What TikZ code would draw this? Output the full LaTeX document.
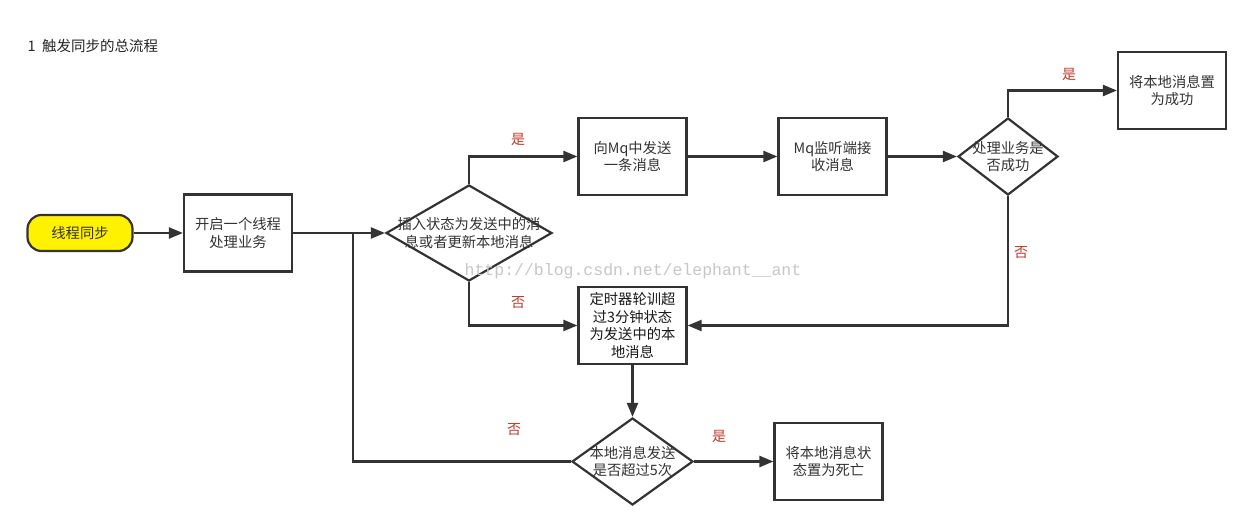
\documentclass[tikz,border=0pt]{standalone}
\usepackage{fontspec}
\setmainfont{Noto Sans CJK SC}
\newfontfamily\wmfont{Liberation Mono}
\usetikzlibrary{shapes.geometric,arrows.meta}
\definecolor{ln}{HTML}{333333}
\definecolor{tx}{HTML}{333333}
\definecolor{lbl}{HTML}{C0392B}
\begin{document}
\begin{tikzpicture}[x=1pt,y=-1pt,
  every node/.style={font=\fontsize{14.3}{17.5}\selectfont, text=tx},
  box/.style={draw=ln, line width=2.2pt, minimum width=108pt, minimum height=77pt, inner sep=2pt, align=center, text width=104pt},
  dia/.style={draw=ln, line width=2.2pt, diamond, inner sep=0pt},
  conn/.style={draw=ln, line width=2.2pt, -{Triangle[length=14pt,width=11pt]}},
  plain/.style={draw=ln, line width=2.2pt},
  lab/.style={text=lbl, font=\fontsize{14}{16}\selectfont}
]
\useasboundingbox (0,0) rectangle (1244,521);
\fill[white] (0,0) rectangle (1244,521);

\node[anchor=west, font=\fontsize{14.5}{17}\selectfont, text=black!85] (title) at (24,46) {1\ \ 触发同步的总流程};

\node[draw=ln, line width=2.2pt, fill=yellow, rounded corners=14pt, minimum width=105pt, minimum height=36pt, inner sep=0pt] (start) at (80,233) {线程同步};
\node[box] (b1) at (238,233) {开启一个线程\\处理业务};
\node[dia, minimum width=166pt, minimum height=96pt] (d1) at (469,233) {};
\node[align=center] (d1t) at (d1.center) {插入状态为发送中的消\\息或者更新本地消息};
\node[box] (mq) at (632.5,156.5) {向Mq中发送\\一条消息};
\node[box] (ml) at (832.5,156.5) {Mq监听端接\\收消息};
\node[dia, minimum width=100pt, minimum height=77pt] (d2) at (1008,156.5) {};
\node[align=center] (d2t) at (d2.center) {处理业务是\\否成功};
\node[box] (ok) at (1172,90.5) {将本地消息置\\为成功};
\node[box, text=black!90] (tm) at (632.5,325.5) {定时器轮训超\\过3分钟状态\\为发送中的本\\地消息};
\node[dia, minimum width=121pt, minimum height=87pt] (d3) at (632.5,461.5) {};
\node[align=center] (d3t) at (d3.center) {本地消息发送\\是否超过5次};
\node[box] (dead) at (828.5,461.5) {将本地消息状\\态置为死亡};

\node[text=black!22, font=\wmfont\fontsize{16.5}{18}\selectfont] (wm) at (633,271) {http://blog.csdn.net/elephant\_\_ant};

\coordinate (j) at (353,233);

\draw[conn] (start) -- (b1);
\draw[conn] (b1) -- (d1.west);
\draw[conn] (d1.north) |- (mq.west);
\draw[conn] (d1.south) |- (tm.west);
\draw[conn] (mq) -- (ml);
\draw[conn] (ml) -- (d2.west);
\draw[conn] (d2.north) |- (ok.west);
\draw[conn] (d2.south) |- (tm.east);
\draw[conn] (tm) -- (d3.north);
\draw[conn] (d3.east) -- (dead.west);
\draw[plain] (d3.west) -| (j);

\node[lab] (l1) at (518,139) {是};
\node[lab] (l2) at (518,303) {否};
\node[lab] (l3) at (1069,74) {是};
\node[lab] (l4) at (1021,253) {否};
\node[lab] (l5) at (719,436) {是};
\node[lab] (l6) at (514,430) {否};
\end{tikzpicture}
\end{document}
